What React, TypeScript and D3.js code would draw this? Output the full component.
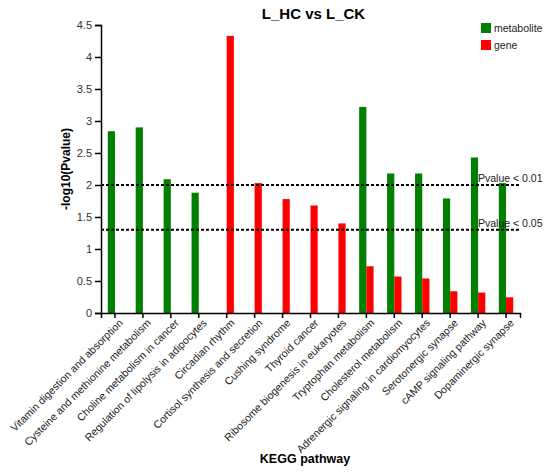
import React, { useEffect, useRef } from 'react';
import * as d3 from 'd3';

const pathways = [
  'Vitamin digestion and absorption',
  'Cysteine and methionine metabolism',
  'Choline metabolism in cancer',
  'Regulation of lipolysis in adipocytes',
  'Circadian rhythm',
  'Cortisol synthesis and secretion',
  'Cushing syndrome',
  'Thyroid cancer',
  'Ribosome biogenesis in eukaryotes',
  'Tryptophan metabolism',
  'Cholesterol metabolism',
  'Adrenergic signaling in cardiomyocytes',
  'Serotonergic synapse',
  'cAMP signaling pathway',
  'Dopaminergic synapse',
];

// null = no bar for that series
const metabolite = [2.84, 2.9, 2.09, 1.88, null, null, null, null, null, 3.22, 2.18, 2.18, 1.79, 2.43, 2.03];
const gene = [null, null, null, null, 4.33, 2.03, 1.78, 1.68, 1.4, 0.73, 0.57, 0.54, 0.34, 0.32, 0.245];

const yTicks = [0, 0.5, 1, 1.5, 2, 2.5, 3, 3.5, 4, 4.5];
const thresholds = [
  { value: 2, label: 'Pvalue < 0.01' },
  { value: -Math.log10(0.05), label: 'Pvalue < 0.05' },
];

const series = [
  { name: 'metabolite', values: metabolite, color: '#008000' },
  { name: 'gene', values: gene, color: '#ff0000' },
];

const width = 550;
const height = 472;
const margin = { top: 25, right: 30, bottom: 159, left: 101 };
const font = 'Arial, "Liberation Sans", sans-serif';

const App = () => {
  const ref = useRef<SVGSVGElement>(null);

  useEffect(() => {
    if (!ref.current) return;
    const svg = d3.select(ref.current);
    svg.selectAll('*').remove();

    const x = d3
      .scaleBand()
      .domain(pathways)
      .range([margin.left, width - margin.right]);

    const sub = d3
      .scaleBand()
      .domain(series.map((s) => s.name))
      .range([x.bandwidth() / 2 - 7.2, x.bandwidth() / 2 + 7.2]);

    const y = d3
      .scaleLinear()
      .domain([0, 4.5])
      .range([height - margin.bottom, margin.top]);

    // bars
    series.forEach((s) => {
      svg
        .append('g')
        .attr('fill', s.color)
        .selectAll('rect')
        .data(s.values.map((v, i) => ({ v, p: pathways[i] })).filter((d) => d.v != null))
        .join('rect')
        .attr('x', (d) => (x(d.p) as number) + (sub(s.name) as number))
        .attr('y', (d) => y(d.v as number))
        .attr('width', sub.bandwidth())
        .attr('height', (d) => y(0) - y(d.v as number));
    });

    // threshold lines
    const th = svg.append('g');
    thresholds.forEach((t) => {
      th.append('line')
        .attr('x1', margin.left)
        .attr('x2', width - margin.right)
        .attr('y1', y(t.value))
        .attr('y2', y(t.value))
        .attr('stroke', '#000')
        .attr('stroke-width', 2)
        .attr('stroke-dasharray', '3,2');
      th.append('text')
        .attr('x', 478)
        .attr('y', y(t.value) - 3)
        .attr('font-family', font)
        .attr('font-size', 10.5)
        .attr('fill', '#222')
        .text(t.label);
    });

    // y axis
    svg
      .append('g')
      .attr('transform', `translate(${margin.left},0)`)
      .call(
        d3
          .axisLeft(y)
          .tickValues(yTicks)
          .tickFormat((d) => String(d))
          .tickSizeOuter(0)
          .tickSize(6)
          .tickPadding(3),
      )
      .call((g) => g.selectAll('line,path').attr('stroke', '#000').attr('stroke-width', 1.5))
      .call((g) =>
        g.selectAll('text').attr('font-family', font).attr('font-size', 11).attr('fill', '#333'),
      );

    // x axis
    svg
      .append('g')
      .attr('transform', `translate(0,${y(0)})`)
      .call(d3.axisBottom(x).tickSizeOuter(0).tickSize(5).tickFormat(() => ''))
      .call((g) => g.selectAll('line,path').attr('stroke', '#000').attr('stroke-width', 1.5));

    svg
      .append('g')
      .selectAll('text')
      .data(pathways)
      .join('text')
      .attr(
        'transform',
        (d) => `translate(${(x(d) as number) + x.bandwidth() / 2 + 3},${y(0) + 5}) rotate(-45)`,
      )
      .attr('text-anchor', 'end')
      .attr('dy', '0.75em')
      .attr('font-family', font)
      .attr('font-size', 10.6)
      .attr('fill', '#222')
      .text((d) => d);

    // titles
    svg
      .append('text')
      .attr('x', (margin.left + width - margin.right) / 2 + 3)
      .attr('y', 19)
      .attr('text-anchor', 'middle')
      .attr('font-family', font)
      .attr('font-size', 15)
      .attr('font-weight', 'bold')
      .text('L_HC vs L_CK');

    svg
      .append('text')
      .attr('transform', `translate(70,${(y(0) + y(4.5)) / 2}) rotate(-90)`)
      .attr('text-anchor', 'middle')
      .attr('font-family', font)
      .attr('font-size', 12)
      .attr('font-weight', 'bold')
      .text('-log10(Pvalue)');

    svg
      .append('text')
      .attr('x', 305)
      .attr('y', 463)
      .attr('text-anchor', 'middle')
      .attr('font-family', font)
      .attr('font-size', 12.5)
      .attr('font-weight', 'bold')
      .text('KEGG pathway');

    // legend
    const legend = svg
      .append('g')
      .selectAll('g')
      .data(series)
      .join('g')
      .attr('transform', (_, i) => `translate(481,${23 + i * 17})`);
    legend
      .append('rect')
      .attr('width', 10)
      .attr('height', 10)
      .attr('fill', (d) => d.color);
    legend
      .append('text')
      .attr('x', 13)
      .attr('y', 5)
      .attr('dy', '0.35em')
      .attr('font-family', font)
      .attr('font-size', 10.5)
      .attr('fill', '#222')
      .text((d) => d.name);
  }, []);

  return (
    <svg
      ref={ref}
      width={width}
      height={height}
      style={{ position: 'absolute', left: 0, top: 0, background: '#fff' }}
    />
  );
};

export default App;
